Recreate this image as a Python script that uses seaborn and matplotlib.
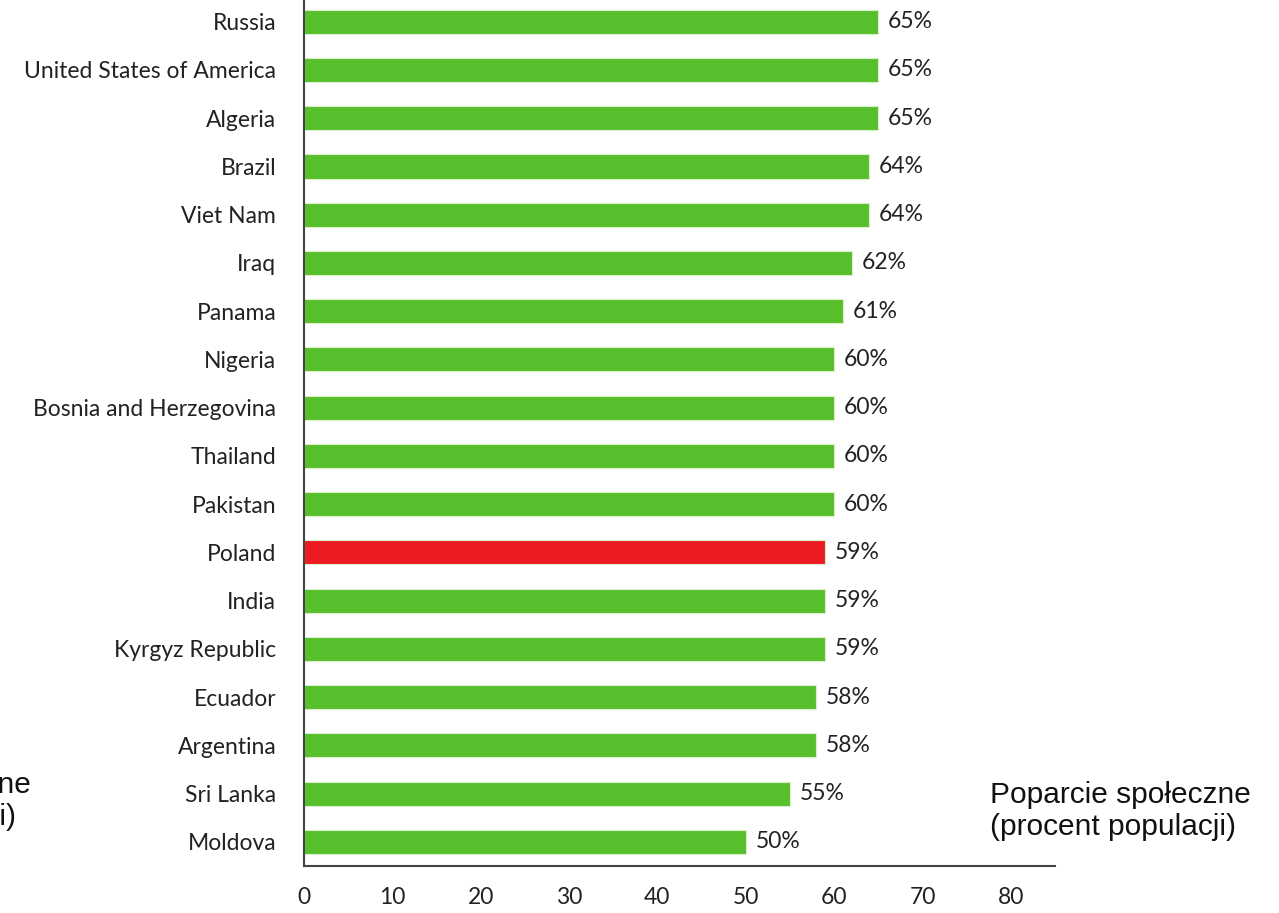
import matplotlib
matplotlib.use("Agg")
import matplotlib.pyplot as plt
import seaborn as sns
import pandas as pd

countries = ["Russia", "United States of America", "Algeria", "Brazil", "Viet Nam",
             "Iraq", "Panama", "Nigeria", "Bosnia and Herzegovina", "Thailand",
             "Pakistan", "Poland", "India", "Kyrgyz Republic", "Ecuador",
             "Argentina", "Sri Lanka", "Moldova"]
values = [65, 65, 65, 64, 64, 62, 61, 60, 60, 60, 60, 59, 59, 59, 58, 58, 55, 50]
highlight = "Poland"
xticks = [0, 10, 20, 30, 40, 50, 60, 70, 80]
axis_label = "Poparcie społeczne\n(procent populacji)"

GREEN = "#57BF2C"
RED = "#ED1C24"

sns.set_theme(style="white")
plt.rcParams["font.family"] = ["Lato", "DejaVu Sans"]

df = pd.DataFrame({"country": countries, "value": values})
df["group"] = ["hl" if c == highlight else "base" for c in countries]

fig = plt.figure(figsize=(12.79, 9.13), dpi=100)
ax = fig.add_axes([304/1279, 47/913, (1055-304)/1279, (913-47)/913])

sns.barplot(data=df, y="country", x="value", hue="group", orient="h",
            palette={"base": GREEN, "hl": RED}, width=0.5, legend=False,
            saturation=1, edgecolor="#d8f0cc", linewidth=0.8, ax=ax)

ax.set_xlim(0, 85)
ax.set_ylim(17.5, -0.45)
ax.set_xticks(xticks)
ax.set_xticklabels([str(t) for t in xticks], fontsize=16.5, color="#222222")
ax.tick_params(axis="y", labelsize=16.5, labelcolor="#222222", length=0, pad=20)
ax.tick_params(axis="x", length=0, pad=15)
ax.set_xlabel("")
ax.set_ylabel("")
for s in ["top", "right"]:
    ax.spines[s].set_visible(False)
for s in ["left", "bottom"]:
    ax.spines[s].set_color("#444444")
    ax.spines[s].set_linewidth(1.5)

for i, v in enumerate(values):
    ax.text(v + 1.1, i, f"{v}%", va="center", ha="left", fontsize=16.5, color="#222222")

fig.text(990/1279, 1 - 781/913, axis_label, ha="left", va="top",
         fontsize=21.5, family=["Liberation Sans", "DejaVu Sans"], color="#111111")
# clipped duplicate of the label at the left edge
fig.text((990-1220)/1279, 1 - 771/913, axis_label, ha="left", va="top",
         fontsize=21.5, family=["Liberation Sans", "DejaVu Sans"], color="#111111")

fig.savefig("out.png", dpi=100)
